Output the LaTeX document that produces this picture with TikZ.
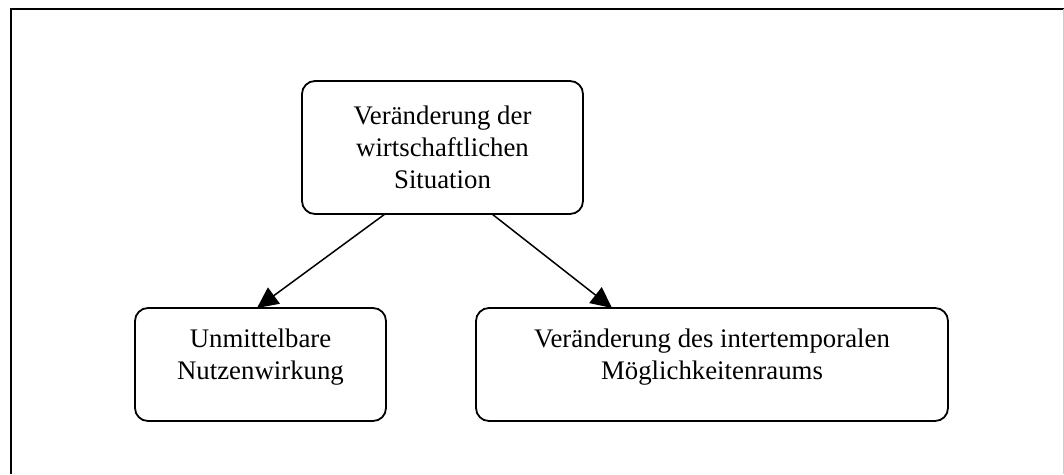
\documentclass[tikz,border=0pt]{standalone}
\usepackage{fontspec}
\setmainfont{Liberation Serif}
\usetikzlibrary{arrows.meta}
\begin{document}
\begin{tikzpicture}[x=1pt,y=-1pt,
  box/.style={draw,line width=1.8pt,rounded corners=13pt,align=center,inner sep=0pt,
    font=\fontsize{26.8}{32}\selectfont},
  arr/.style={line width=1.5pt,-{Triangle[length=21pt,width=20pt]}}]
\useasboundingbox (0,0) rectangle (1064,474);
% frame
\draw[line width=2pt] (11,474) -- (11,9) -- (1064,9);
\draw[gray!40,line width=1pt] (1063.5,9) -- (1063.5,474);
% boxes
\node[box,minimum width=281pt,minimum height=133pt] (top) at (442.5,147.5)
  {Veränderung der\\wirtschaftlichen\\Situation};
\node[box,minimum width=251pt,minimum height=113pt] (left) at (260.5,364.5)
  {Unmittelbare\\Nutzenwirkung\\[-12pt]\mbox{}};
\node[box,minimum width=472pt,minimum height=113pt] (right) at (712,364.5)
  {Veränderung des intertemporalen\\Möglichkeitenraums\\[-12pt]\mbox{}};
% arrows
\coordinate (a1) at (385,214);
\coordinate (a2) at (492,214);
\draw[arr] (a1) -- (257,308) coordinate (t1);
\draw[arr] (a2) -- (612,308) coordinate (t2);
\end{tikzpicture}
\end{document}
